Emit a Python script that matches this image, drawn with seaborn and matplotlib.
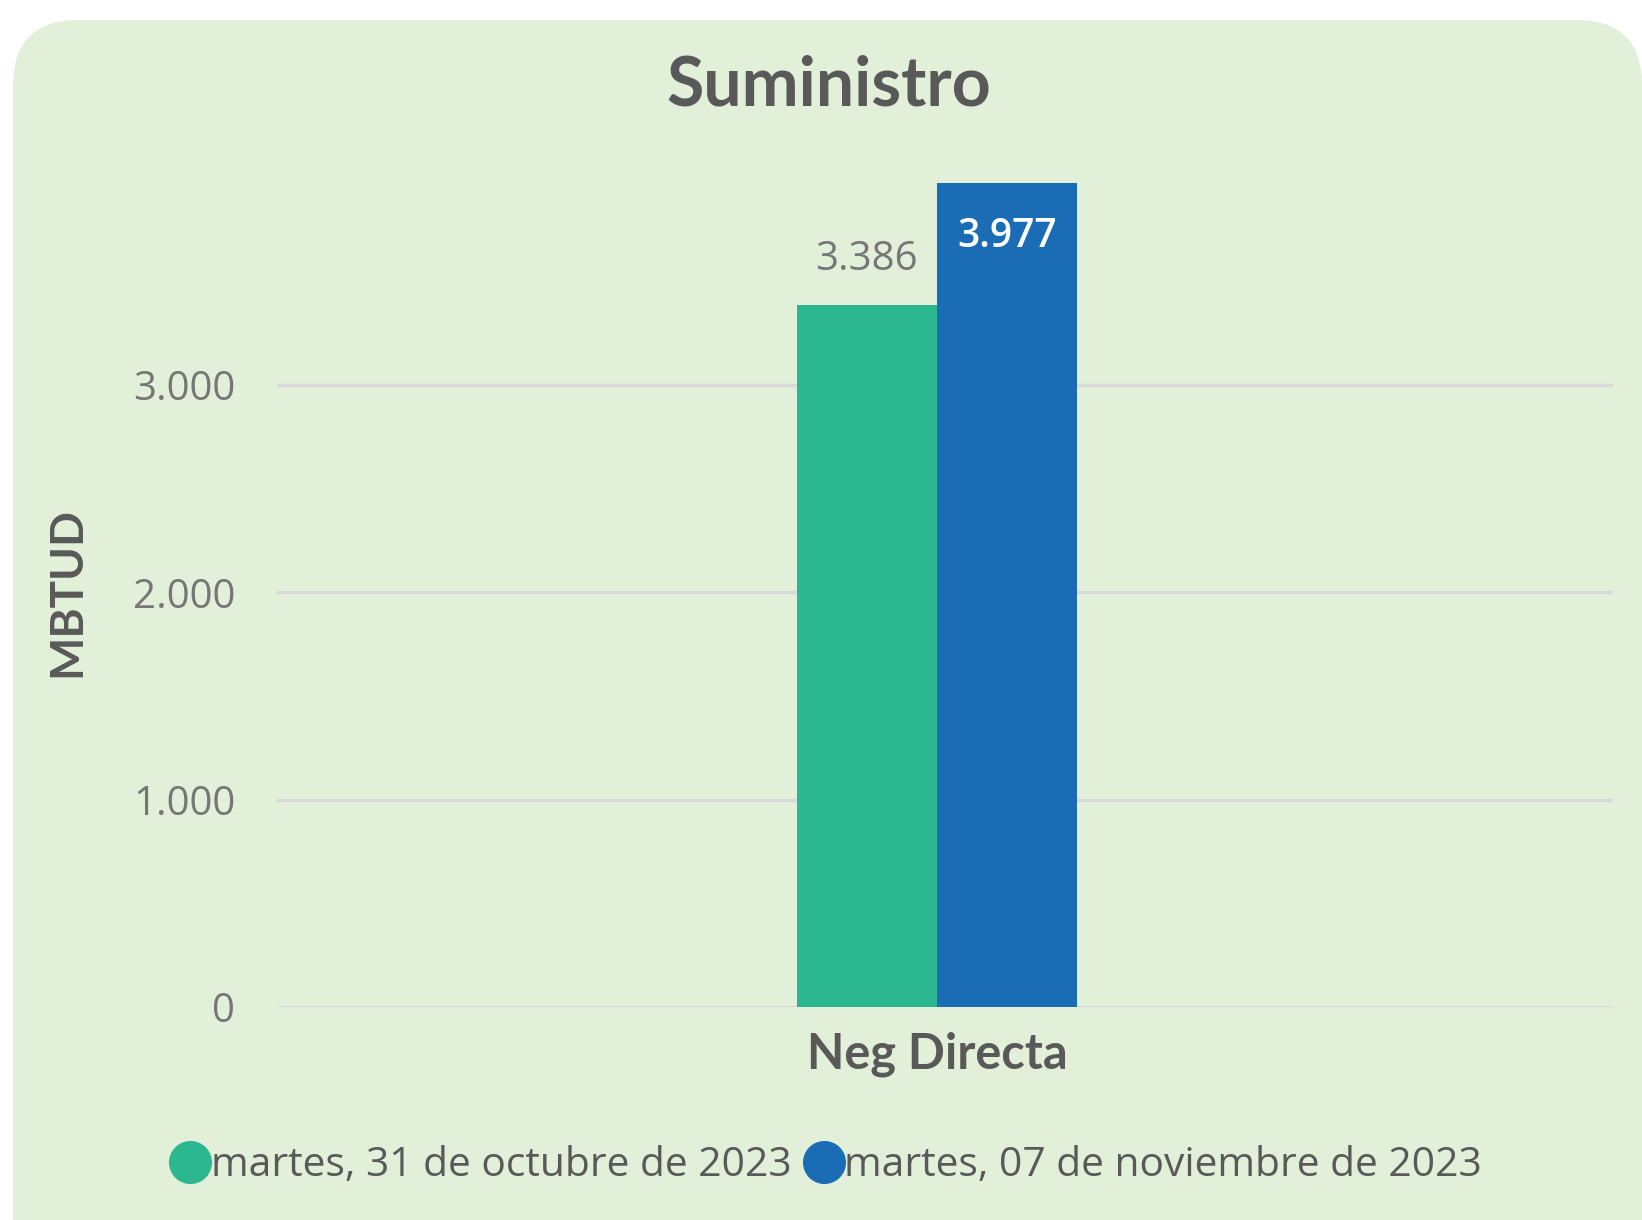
import numpy as np
import pandas as pd
import matplotlib
matplotlib.use("Agg")
import matplotlib.pyplot as plt
from matplotlib.patches import FancyBboxPatch
from matplotlib.lines import Line2D
import seaborn as sns

# ---------------------- datos ----------------------
categorias = ["Neg Directa"]
fechas = ["martes, 31 de octubre de 2023", "martes, 07 de noviembre de 2023"]
valores = [3386, 3977]
colores = ["#2BB891", "#1A6DB5"]
yticks = [0, 1000, 2000, 3000]

df = pd.DataFrame({
    "categoria": categorias * len(fechas),
    "fecha": fechas,
    "valor": valores,
})

sns.set_theme(style="white")
plt.rcParams["font.family"] = ["Open Sans", "DejaVu Sans"]
NEGRITA = ["Lato", "DejaVu Sans"]

def fmt(v):
    return f"{v:,.0f}".replace(",", ".")

fig = plt.figure(figsize=(16.42, 12.2), dpi=100)
fig.patch.set_facecolor("white")

# fondo redondeado
caja = FancyBboxPatch((13 / 1642, -0.1), 1 - 13 / 1642, 1.1 - 20 / 1220,
                      boxstyle="round,pad=0,rounding_size=0.04",
                      transform=fig.transFigure, facecolor="#E2EFD9",
                      edgecolor="none", zorder=-5,
                      mutation_aspect=1642 / 1220)
fig.add_artist(caja)

ax = fig.add_axes([0.1687, 0.1746, 0.8136, 0.6797])
ax.set_facecolor("none")
ax.set_zorder(2)

sns.barplot(data=df, x="categoria", y="valor", hue="fecha", palette=colores,
            width=0.21, saturation=1, ax=ax, legend=False, zorder=3,
            linewidth=0)

ax.set_ylim(0, 4000)
ax.set_xlim(-0.494, 0.506)
ax.set_yticks(yticks)
ax.set_yticklabels([fmt(v) for v in yticks], fontsize=29, color="#767676")
ax.tick_params(axis="y", length=0, pad=30)
ax.tick_params(axis="x", length=0, pad=18)
for t in ax.get_xticklabels():
    t.set_fontsize(35)
    t.set_fontweight("bold")
    t.set_family(NEGRITA)
    t.set_color("#595959")
ax.grid(axis="y", color="#D9D9D9", linewidth=2.4, zorder=0)
ax.set_axisbelow(True)
for s in ax.spines.values():
    s.set_visible(False)

ax.set_xlabel("")
ax.set_ylabel("MBTUD", fontsize=33, fontweight="bold", family=NEGRITA,
              color="#595959", labelpad=32)

# etiquetas de valor
barras = ax.patches
for i, b in enumerate(barras[:len(valores)]):
    cx = b.get_x() + b.get_width() / 2
    h = b.get_height()
    if i == 0:
        ax.annotate(fmt(h), (cx, h), xytext=(0, 18), textcoords="offset points",
                    ha="center", va="bottom", fontsize=29, color="#767676")
    else:
        ax.annotate(fmt(h), (cx, h), xytext=(0, -25), textcoords="offset points",
                    ha="center", va="top", fontsize=28, color="white",
                    fontweight="semibold")

fig.text(0.505, 1 - 86 / 1220, "Suministro", ha="center", va="center",
         fontsize=49, fontweight="bold", family=NEGRITA, color="#595959")

handles = [Line2D([0], [0], marker="o", linestyle="", markersize=30,
                  markerfacecolor=c, markeredgecolor=c) for c in colores]
fig.legend(handles, fechas, loc="center", bbox_to_anchor=(0.503, 1 - 1166 / 1220),
           ncol=2, frameon=False, fontsize=29.3, labelcolor="#595959",
           handletextpad=0.0, columnspacing=0.3, handlelength=1.0)

fig.savefig("out.png", dpi=100)
